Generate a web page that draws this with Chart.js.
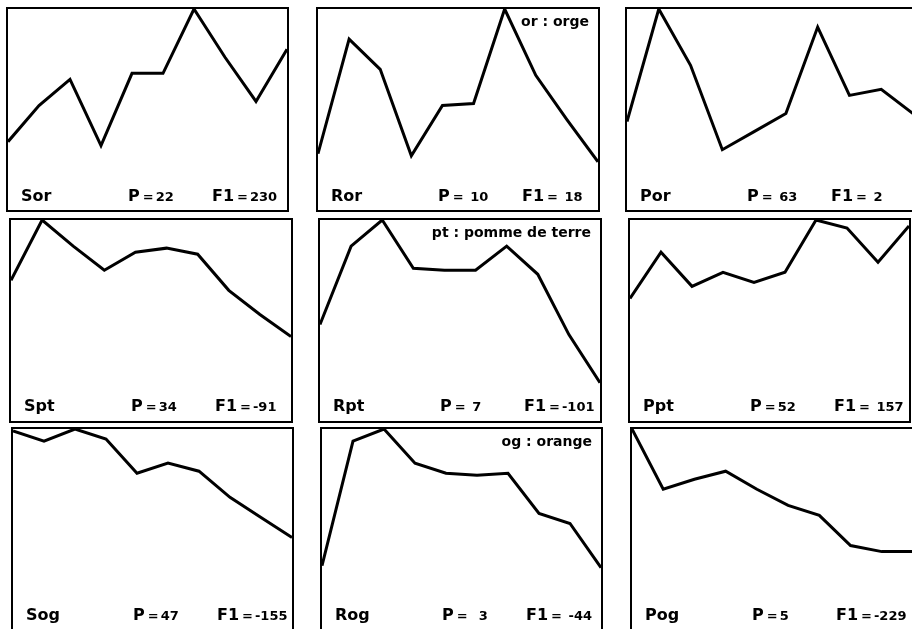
<!DOCTYPE html>
<html>
<head>
<meta charset="utf-8">
<script src="https://cdn.jsdelivr.net/npm/chart.js@4.4.1/dist/chart.umd.min.js"></script>
<style>
  html, body { margin: 0; padding: 0; background: #fff; width: 912px; height: 629px; overflow: hidden; }
  body { position: relative; font-family: "DejaVu Sans", sans-serif; font-weight: bold; color: #000; }
  .panel { position: absolute; box-sizing: border-box; border: 2px solid #000; background: #fff; }
  .panel canvas { position: absolute; left: 0; top: 0; }
  .lab { position: absolute; white-space: pre; line-height: 16px; font-size: 16px; }
  .num { font-size: 13px; }
  .eq { font-size: 13px; margin: 0 2px 0 3px; }
  .note { position: absolute; white-space: pre; font-size: 14px; line-height: 14px; text-align: right; }
</style>
</head>
<body>
<script>
// ---- data ----
const xLabels = ['1','2','3','4','5','6','7','8','9','10'];
const panelNames = ['Sor','Ror','Por','Spt','Rpt','Ppt','Sog','Rog','Pog'];
const pTexts  = ['22',' 10',' 63','34',' 7','52','47','  3','5'];
const f1Texts = ['230',' 18',' 2','-91','-101',' 157','-155',' -44','-229'];
const notes   = ['', 'or : orge', '', '', 'pt : pomme de terre', '', '', 'og : orange', ''];

const sor = [34, 52, 65, 32, 68, 68, 100, 76, 54, 80];
const ror = [28, 85, 70, 27, 52, 53, 100, 67, 45, 24];
const por = [44, 100, 72, 30, 39, 48, 91, 57, 60, 48];
const spt = [70, 100, 87, 75, 84, 86, 83, 65, 53, 42];
const rpt = [48, 87, 100, 76, 75, 75, 87, 73, 43, 19];
const ppt = [61, 84, 67, 74, 69, 74, 100, 96, 79, 97];
const sog = [99, 94, 100, 95, 78, 83, 79, 66, 56, 46];
const rog = [32, 94, 100, 83, 78, 77, 78, 58, 53, 31];
const pog = [100, 70, 75, 79, 70, 62, 57, 42, 39, 39];
const seriesList = [sor, ror, por, spt, rpt, ppt, sog, rog, pog];

// ---- layout (border centre lines: left, top, right, bottom) ----
const boxes = [
  [7, 8, 288, 211], [317, 8, 599, 211], [626, 8, 914, 211],
  [10, 219, 292, 422], [319, 219, 601, 422], [629, 219, 910, 422],
  [12, 428, 293, 631], [321, 428, 602, 631], [631, 428, 914, 631]
];
const baseOff = [193, 193, 193, 192, 192, 192, 192, 192, 192];

boxes.forEach((b, i) => {
  const [l, t, r, bt] = b;
  const div = document.createElement('div');
  div.className = 'panel';
  div.style.left = (l - 1) + 'px';
  div.style.top = (t - 1) + 'px';
  div.style.width = (r - l + 2) + 'px';
  div.style.height = (bt - t + 2) + 'px';
  const cv = document.createElement('canvas');
  const w = r - l - 2, h = bt - t - 2;
  cv.width = w; cv.height = h;
  cv.style.width = w + 'px'; cv.style.height = h + 'px';
  div.appendChild(cv);
  document.body.appendChild(div);

  new Chart(cv, {
    type: 'line',
    data: {
      labels: xLabels,
      datasets: [{
        data: seriesList[i],
        borderColor: '#000',
        borderWidth: 3,
        pointRadius: 0,
        tension: 0,
        fill: false,
        clip: 3
      }]
    },
    options: {
      responsive: false,
      animation: false,
      devicePixelRatio: 1,
      layout: { padding: 0 },
      plugins: { legend: { display: false }, tooltip: { enabled: false }, title: { display: false } },
      scales: {
        x: { type: 'category', display: false, offset: false },
        y: { display: false, min: 0, max: 100 }
      }
    }
  });

  const base = t + baseOff[i];
  const mk = (x, html) => {
    const d = document.createElement('div');
    d.className = 'lab';
    d.style.left = x + 'px';
    d.style.top = (base - 13.5) + 'px';
    d.innerHTML = html;
    document.body.appendChild(d);
  };
  mk(l + 14, panelNames[i]);
  mk(l + 121, 'P<span class="eq">=</span><span class="num">' + pTexts[i] + '</span>');
  mk(l + 205, 'F1<span class="eq">=</span><span class="num">' + f1Texts[i] + '</span>');

  if (notes[i]) {
    const n = document.createElement('div');
    n.className = 'note';
    n.style.right = (912 - (r - 10)) + 'px';
    n.style.top = (t + 18 - 11.8) + 'px';
    n.textContent = notes[i];
    document.body.appendChild(n);
  }
});
</script>
</body>
</html>
